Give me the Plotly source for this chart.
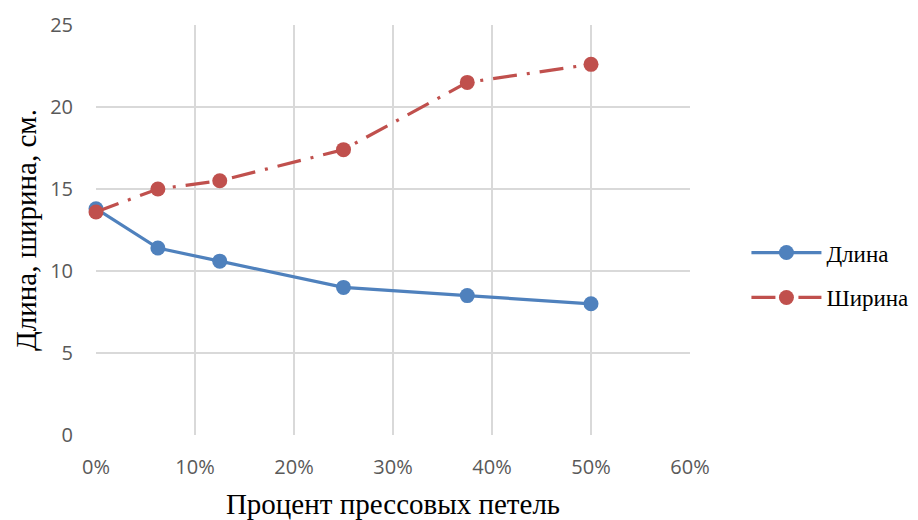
import plotly.graph_objects as go

# Доля прессовых петель (в долях единицы)
press_share = [0.0, 0.0625, 0.125, 0.25, 0.375, 0.5]
length_cm = [13.8, 11.4, 10.6, 9.0, 8.5, 8.0]
width_cm = [13.6, 15.0, 15.5, 17.4, 21.5, 22.6]

x_ticks = [0.0, 0.1, 0.2, 0.3, 0.4, 0.5, 0.6]
y_ticks = [0, 5, 10, 15, 20, 25]

blue = "#4f81bd"
red = "#c0504d"
grid = "#d9d9d9"
tick_font = dict(family="Open Sans, Calibri, Carlito, sans-serif", size=20, color="#595959")
serif = "Liberation Serif, Times New Roman, serif"

fig = go.Figure()
fig.add_trace(go.Scatter(
    x=press_share, y=length_cm, name="Длина", mode="lines+markers",
    legendgroup="len",
    line=dict(color=blue, width=3.2),
    marker=dict(color=blue, size=15),
    cliponaxis=False,
))
fig.add_trace(go.Scatter(
    x=press_share, y=width_cm, name="Ширина", mode="lines+markers",
    legendgroup="wid",
    line=dict(color=red, width=3.2, dash="24px,10px,3px,10px"),
    marker=dict(color=red, size=15),
    cliponaxis=False,
))

fig.update_layout(
    width=918, height=520,
    margin=dict(l=96, r=228, t=25, b=85, autoexpand=False),
    paper_bgcolor="white", plot_bgcolor="white",
    showlegend=True,
    legend=dict(
        x=1.095, y=0.39, xanchor="left", yanchor="middle",
        font=dict(family=serif, size=23, color="black"),
        tracegroupgap=12, itemwidth=70,
    ),
    xaxis=dict(
        range=[0, 0.6], tickvals=x_ticks, tickformat=".0%",
        showgrid=True, gridcolor=grid, gridwidth=1.5,
        zeroline=False, showline=False, automargin=False,
        ticks="", ticklabelstandoff=18,
        tickfont=tick_font,
        title=dict(text="Процент прессовых петель",
                   font=dict(family=serif, size=29, color="black"), standoff=19),
    ),
    yaxis=dict(
        range=[0, 25], tickvals=y_ticks,
        showgrid=True, gridcolor=grid, gridwidth=1.5,
        zeroline=False, showline=False, automargin=False,
        ticks="", ticklabelstandoff=22,
        tickfont=tick_font,
        title=dict(text="Длина, ширина, см.",
                   font=dict(family=serif, size=29, color="black"), standoff=4),
    ),
)

fig.write_html("out.html")
